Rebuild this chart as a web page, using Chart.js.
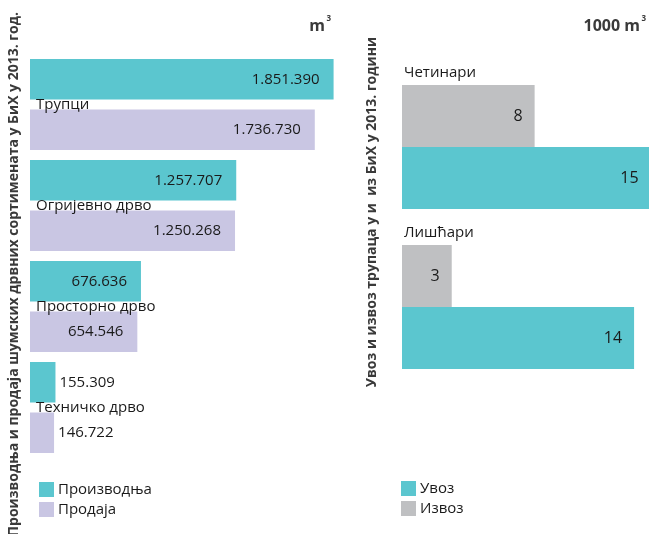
<!DOCTYPE html>
<html>
<head>
<meta charset="utf-8">
<script src="https://cdn.jsdelivr.net/npm/chart.js@4"></script>
<style>
  body { margin: 0; background: #fff; }
  #wrap { position: relative; width: 649px; height: 534px; overflow: hidden; }
  #woodChart { position: absolute; left: 0; top: 0; }
  #logChart { position: absolute; left: 340px; top: 0; }
</style>
</head>
<body>
<div id="wrap">
  <canvas id="woodChart" width="340" height="534"></canvas>
  <canvas id="logChart" width="309" height="534"></canvas>
</div>
<script>
// data
const woodTypes = ["Трупци", "Огријевно дрво", "Просторно дрво", "Техничко дрво"];
const production = [1851390, 1257707, 676636, 155309];
const sales = [1736730, 1250268, 654546, 146722];

const logGroups = ["Четинари", "Лишћари"];
const importVals = [15, 14];
const exportVals = [8, 3];

const TEAL = "#5bc6cf";
const LAVENDER = "#c9c6e3";
const GRAY = "#bfc0c2";
const FONT = "'Open Sans', 'Noto Sans', sans-serif";

function fmt(v) {
  return String(v).replace(/\B(?=(\d{3})+(?!\d))/g, ".");
}

// draws value labels, category names, rotated title, unit and legend
const decorPlugin = {
  id: "decor",
  afterDatasetsDraw(chart, args, opts) {
    const ctx = chart.ctx;
    const yScale = chart.scales.y;
    ctx.save();
    ctx.fillStyle = "#1a1a1a";

    // values on bars
    ctx.font = opts.valueFont + "px " + FONT;
    ctx.textBaseline = "middle";
    chart.data.datasets.forEach((ds, di) => {
      chart.getDatasetMeta(di).data.forEach((bar, i) => {
        const txt = fmt(ds.data[i]);
        const w = ctx.measureText(txt).width;
        const len = bar.x - bar.base;
        if (w + opts.valuePad * 2 < len) {
          ctx.textAlign = "right";
          ctx.fillText(txt, bar.x - opts.valuePad, bar.y);
        } else {
          ctx.textAlign = "left";
          ctx.fillText(txt, bar.x + 4, bar.y);
        }
      });
    });

    // category names
    ctx.font = "15px " + FONT;
    ctx.textAlign = "left";
    chart.data.labels.forEach((lab, i) => {
      const yc = yScale.getPixelForValue(i);
      ctx.fillText(lab, opts.catX, yc + opts.catDy);
    });

    // rotated title
    ctx.save();
    ctx.font = "bold 14px " + FONT;
    ctx.fillStyle = "#3a3a3a";
    ctx.translate(opts.titleX, opts.titleTop);
    ctx.rotate(-Math.PI / 2);
    ctx.textAlign = "right";
    ctx.textBaseline = "middle";
    ctx.fillText(opts.title, 0, 0);
    ctx.restore();

    // unit
    ctx.fillStyle = "#3a3a3a";
    ctx.textAlign = "right";
    ctx.textBaseline = "alphabetic";
    ctx.font = "bold 8px " + FONT;
    ctx.fillText("3", opts.unitRight, 21);
    ctx.font = "bold 16px " + FONT;
    ctx.fillText(opts.unit, opts.unitRight - 6, 31);

    // legend
    ctx.font = "15px " + FONT;
    ctx.textAlign = "left";
    ctx.textBaseline = "middle";
    opts.legendOrder.forEach((di, k) => {
      const ds = chart.data.datasets[di];
      const y = opts.legendY + k * 20;
      ctx.fillStyle = ds.backgroundColor;
      ctx.fillRect(opts.legendX, y, 15, 15);
      ctx.fillStyle = "#1a1a1a";
      ctx.fillText(ds.label, opts.legendX + 19, y + 8);
    });
    ctx.restore();
  }
};

new Chart(document.getElementById("woodChart"), {
  type: "bar",
  data: {
    labels: woodTypes,
    datasets: [
      { label: "Производња", data: production, backgroundColor: TEAL },
      { label: "Продаја", data: sales, backgroundColor: LAVENDER }
    ]
  },
  options: {
    indexAxis: "y",
    responsive: false,
    animation: false,
    categoryPercentage: 1,
    barPercentage: 0.8,
    layout: { padding: { left: 30, top: 54, right: 5, bottom: 76 } },
    scales: {
      x: { display: false, min: 0, max: 1860000 },
      y: { display: false }
    },
    plugins: {
      legend: { display: false },
      tooltip: { enabled: false },
      decor: {
        valueFont: 15, valuePad: 14, catX: 36, catDy: 0,
        title: "Производња и продаја шумских дрвних сортимената у БиХ у 2013. год.",
        titleX: 14, titleTop: 12,
        unit: "m", unitRight: 331,
        legendOrder: [0, 1], legendX: 39, legendY: 482
      }
    }
  },
  plugins: [decorPlugin]
});

new Chart(document.getElementById("logChart"), {
  type: "bar",
  data: {
    labels: logGroups,
    datasets: [
      { label: "Извоз", data: exportVals, backgroundColor: GRAY },
      { label: "Увоз", data: importVals, backgroundColor: TEAL }
    ]
  },
  options: {
    indexAxis: "y",
    responsive: false,
    animation: false,
    categoryPercentage: 0.775,
    barPercentage: 1,
    layout: { padding: { left: 62, top: 67, right: 0, bottom: 147 } },
    scales: {
      x: { display: false, min: 0, max: 14.9 },
      y: { display: false }
    },
    plugins: {
      legend: { display: false },
      tooltip: { enabled: false },
      decor: {
        valueFont: 16, valuePad: 12, catX: 64, catDy: -74,
        title: "Увоз и извоз трупаца у и  из БиХ у 2013. години",
        titleX: 32, titleTop: 37,
        unit: "1000 m", unitRight: 306,
        legendOrder: [1, 0], legendX: 61, legendY: 481
      }
    }
  },
  plugins: [decorPlugin]
});
</script>
</body>
</html>
